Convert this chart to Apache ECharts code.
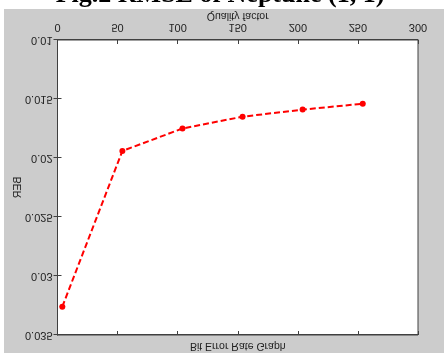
<!DOCTYPE html>
<html>
<head>
<meta charset="utf-8">
<script src="https://cdn.jsdelivr.net/npm/echarts@6/dist/echarts.min.js"></script>
<style>
html,body{margin:0;padding:0;background:#fff;overflow:hidden;}
#chart{width:444px;height:353px;transform:scaleY(-1);transform-origin:50% 50%;}
</style>
</head>
<body>
<div id="chart"></div>
<script>
// Data (the figure is shown vertically mirrored)
const qualityFactor = [4, 54, 104, 154, 204, 254];
const berValues = [0.0326, 0.0194, 0.0175, 0.0165, 0.0159, 0.0154];
const xTicks = [0, 50, 100, 150, 200, 250, 300];
const yTicks = [0.01, 0.015, 0.02, 0.025, 0.03, 0.035];
const figTitle = 'Fig.2 RMSE of Neptune (1, 1)';
const graphTitle = 'Bit Error Rate Graph';
const xName = 'Quality factor';
const yName = 'BER';

const W = 444, H = 353;
const gridLeft = 57.5, gridRight = 26, gridTop = 18, gridBottom = 40;
const axisColor = '#404040';
const textColor = '#222';
const font = 'Liberation Sans, Arial, sans-serif';

const chart = echarts.init(document.getElementById('chart'), null, {width: W, height: H});
const xMin = xTicks[0], xMax = xTicks[xTicks.length - 1], xInt = xTicks[1] - xTicks[0];
const yMin = yTicks[0], yMax = yTicks[yTicks.length - 1], yInt = 0.005;

const fmtY = v => String(parseFloat(v.toFixed(3)));

const axisBase = {
  axisLine: {show: true, lineStyle: {color: axisColor, width: 1}},
  axisTick: {show: true, inside: true, length: 4, lineStyle: {color: axisColor}},
  splitLine: {show: false},
  nameMoveOverlap: false,
  z: 6
};

chart.setOption({
  backgroundColor: '#ffffff',
  animation: false,
  graphic: [
    {
      type: 'text', z: 1, x: 220, y: 358, scaleY: -1,
      style: {text: figTitle, fill: '#000', font: 'bold 26px "Liberation Serif", "Times New Roman", serif',
              align: 'center', verticalAlign: 'middle'}
    },
    {
      type: 'rect', z: 2, shape: {x: 4, y: 0, width: W - 4, height: H - 9},
      style: {fill: '#cccccc'}
    },
    {
      type: 'text', z: 8, x: gridLeft + (W - gridLeft - gridRight) / 2, y: 7,
      style: {text: graphTitle, fill: textColor, font: '10.5px ' + font, align: 'center', verticalAlign: 'middle'}
    }
  ],
  grid: {
    left: gridLeft, right: gridRight, top: gridTop, bottom: gridBottom, z: 5,
    show: true, backgroundColor: '#ffffff', borderColor: axisColor, borderWidth: 1
  },
  xAxis: [
    Object.assign({}, axisBase, {
      type: 'value', position: 'bottom', min: xMin, max: xMax, interval: xInt,
      name: xName, nameLocation: 'middle', nameGap: 19,
      nameTextStyle: {color: textColor, fontSize: 10.5, fontFamily: font},
      axisLabel: {show: true, margin: 7, color: textColor, fontSize: 11, fontFamily: font}
    }),
    Object.assign({}, axisBase, {
      type: 'value', position: 'top', min: xMin, max: xMax, interval: xInt,
      axisLabel: {show: false}
    })
  ],
  yAxis: [
    Object.assign({}, axisBase, {
      type: 'value', position: 'left', min: yMin, max: yMax, interval: yInt,
      name: yName, nameLocation: 'middle', nameGap: 34,
      nameTextStyle: {color: textColor, fontSize: 10.5, fontFamily: font},
      axisLabel: {show: true, margin: 5, color: textColor, fontSize: 11, fontFamily: font, formatter: fmtY}
    }),
    Object.assign({}, axisBase, {
      type: 'value', position: 'right', min: yMin, max: yMax, interval: yInt,
      axisLabel: {show: false}
    })
  ],
  series: [{
    type: 'line',
    xAxisIndex: 0, yAxisIndex: 0,
    data: qualityFactor.map((q, i) => [q, berValues[i]]),
    symbol: 'circle', symbolSize: 6,
    itemStyle: {color: '#ff0000'},
    lineStyle: {color: '#ff0000', width: 2, type: [6, 3]},
    z: 7
  }]
});
</script>
</body>
</html>
